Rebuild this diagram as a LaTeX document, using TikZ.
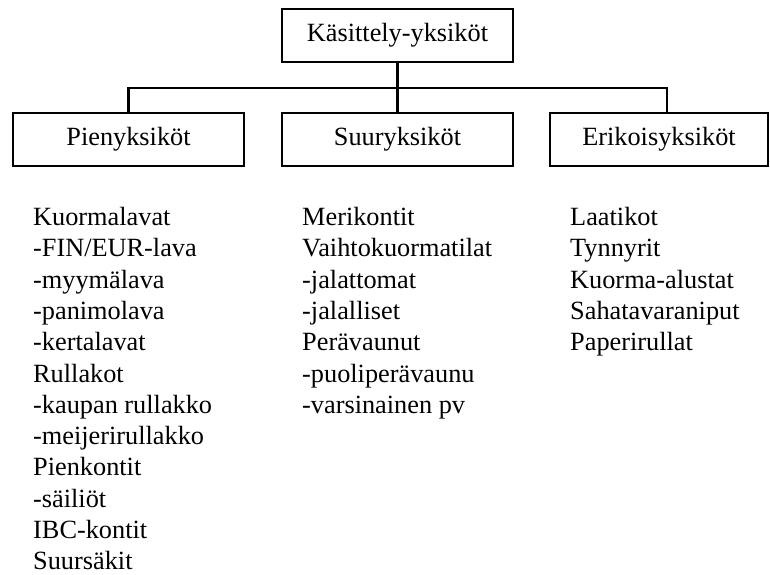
\documentclass[tikz,border=0pt]{standalone}
\usepackage{fontspec}
\setmainfont{Liberation Serif}
\begin{document}
\begin{tikzpicture}[x=1pt,y=-1pt,
  unit/.style={draw,line width=2.2pt,minimum height=53pt,inner sep=0pt,
    font=\fontsize{26.3}{31}\selectfont},
  link/.style={line width=2.2pt},
  item/.style={anchor=base west,inner sep=0pt,font=\fontsize{26.3}{31}\selectfont}]
\useasboundingbox (0,0) rectangle (770,574);

% hierarchy boxes
\node[unit,minimum width=231pt] (top) at (397.5,35.5) {Käsittely-yksiköt};
\node[unit,minimum width=231pt] (small) at (128.5,139.5) {Pienyksiköt};
\node[unit,minimum width=231pt] (large) at (397.5,139.5) {Suuryksiköt};
\node[unit,minimum width=218pt] (special) at (659,139.5) {Erikoisyksiköt};

% connectors
\coordinate (bus) at (397.5,88);
\coordinate (drop) at (667,113);
\draw[link] (top.south) -- (large.north);
\draw[link] (small.north) |- (bus -| drop) -- (drop);

% item lists
\foreach \t [count=\i] in {Kuormalavat,-FIN/EUR-lava,-myymälava,-panimolava,
  -kertalavat,Rullakot,-kaupan rullakko,-meijerirullakko,Pienkontit,-säiliöt,
  IBC-kontit,Suursäkit}
  \node[item] (p\i) at (33,{225.5+31.3*(\i-1)}) {\t};
\foreach \t [count=\i] in {Merikontit,Vaihtokuormatilat,-jalattomat,-jalalliset,
  Perävaunut,-puoliperävaunu,-varsinainen pv}
  \node[item] (s\i) at (302,{225.5+31.3*(\i-1)}) {\t};
\foreach \t [count=\i] in {Laatikot,Tynnyrit,Kuorma-alustat,Sahatavaraniput,
  Paperirullat}
  \node[item] (e\i) at (570,{225.5+31.3*(\i-1)}) {\t};
\end{tikzpicture}
\end{document}
